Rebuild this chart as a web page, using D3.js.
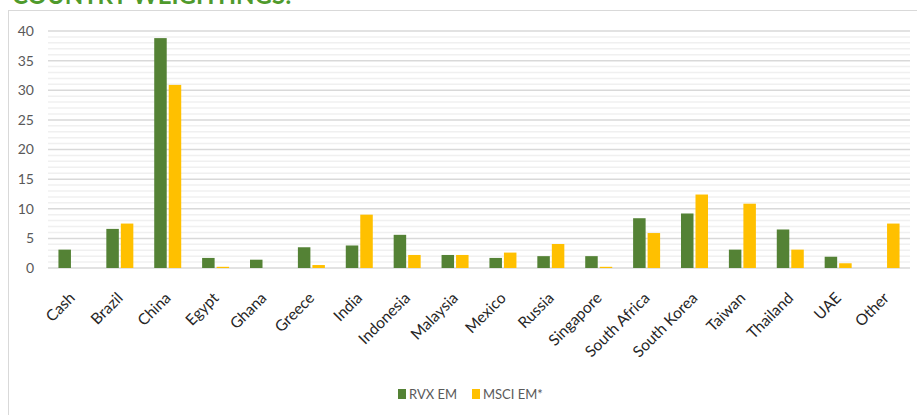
<!DOCTYPE html>
<html>
<head>
<meta charset="utf-8">
<script src="https://cdn.jsdelivr.net/npm/d3@7"></script>
<style>
  body { margin: 0; background: #fff; }
  svg { display: block; font-family: Lato, "Open Sans", sans-serif; }
</style>
</head>
<body>
<script>
const categories = ["Cash", "Brazil", "China", "Egypt", "Ghana", "Greece", "India", "Indonesia", "Malaysia",
  "Mexico", "Russia", "Singapore", "South Africa", "South Korea", "Taiwan", "Thailand", "UAE", "Other"];
const rvxEm = [3.1, 6.6, 38.8, 1.7, 1.4, 3.5, 3.8, 5.6, 2.2, 1.7, 2.0, 2.0, 8.4, 9.2, 3.1, 6.5, 1.9, 0];
const msciEm = [0, 7.5, 30.9, 0.2, 0, 0.5, 9.0, 2.2, 2.2, 2.6, 4.05, 0.2, 5.9, 12.4, 10.85, 3.1, 0.8, 7.5];
const seriesNames = ["RVX EM", "MSCI EM*"];
const yTicks = [0, 5, 10, 15, 20, 25, 30, 35, 40];

const w = 917, h = 415;
const colors = ["#548235", "#FFC000"];

const svg = d3.select("body").append("svg")
  .attr("width", w)
  .attr("height", h);

// title, mostly cut off at the top
svg.append("text")
  .attr("x", 12)
  .attr("y", 4)
  .attr("fill", "#4f9a2c")
  .attr("font-size", 24)
  .attr("font-weight", "bold")
  .text("COUNTRY WEIGHTINGS:");

// chart frame
svg.append("rect")
  .attr("x", 8.5).attr("y", 10.5)
  .attr("width", 930).attr("height", 420)
  .attr("fill", "none")
  .attr("stroke", "#d9d9d9");

const plotLeft = 48, plotRight = 910, plotTop = 31, plotBottom = 268;

const x = d3.scaleBand().domain(categories).range([plotLeft, plotRight]);
const y = d3.scaleLinear().domain([0, 40]).range([plotBottom, plotTop]);

// minor grid
svg.append("g").selectAll("line")
  .data(d3.range(0, 41).filter(v => v % 5 !== 0))
  .join("line")
  .attr("x1", plotLeft).attr("x2", plotRight)
  .attr("y1", d => y(d)).attr("y2", d => y(d))
  .attr("stroke", "#f0f0f0")
  .attr("stroke-width", 1.5);

// major grid
svg.append("g").selectAll("line")
  .data(yTicks)
  .join("line")
  .attr("x1", plotLeft).attr("x2", plotRight)
  .attr("y1", d => y(d)).attr("y2", d => y(d))
  .attr("stroke", "#d9d9d9")
  .attr("stroke-width", 1.5);

// y axis labels
const yAxis = d3.axisLeft(y).tickValues(yTicks).tickSize(0).tickPadding(12);
svg.append("g")
  .attr("transform", "translate(" + (plotLeft - 2) + ",0)")
  .call(yAxis)
  .call(g => g.select(".domain").remove())
  .call(g => g.selectAll("text")
    .attr("fill", "#595959")
    .attr("font-size", 14)
    .attr("font-family", "Lato, sans-serif"));

// bars
const barW = 12.5;
const bars = svg.append("g");
[rvxEm, msciEm].forEach((vals, s) => {
  bars.append("g").selectAll("rect")
    .data(categories)
    .join("rect")
    .attr("x", (d, i) => x(d) + x.bandwidth() / 2 + (s === 0 ? -1 - barW : 1))
    .attr("y", (d, i) => y(vals[i]))
    .attr("width", barW)
    .attr("height", (d, i) => plotBottom - y(vals[i]))
    .attr("fill", colors[s]);
});

// x labels, rotated 45 degrees
const xAxis = d3.axisBottom(x).tickSize(0).tickPadding(0);
svg.append("g")
  .attr("transform", "translate(0," + plotBottom + ")")
  .call(xAxis)
  .call(g => g.select(".domain").remove())
  .call(g => g.selectAll("text")
    .attr("fill", "#262626")
    .attr("font-size", 15.5)
    .attr("font-family", "Lato, sans-serif")
    .attr("text-anchor", "end")
    .attr("y", 0)
    .attr("dy", 0)
    .attr("transform", "translate(4,31) rotate(-45)"));

// legend
const legend = svg.append("g").attr("transform", "translate(398,389)");
const legX = [0, 74];
seriesNames.forEach((name, i) => {
  legend.append("rect")
    .attr("x", legX[i]).attr("y", 0)
    .attr("width", 8).attr("height", 10)
    .attr("fill", colors[i]);
  legend.append("text")
    .attr("x", legX[i] + 11).attr("y", 10)
    .attr("fill", "#595959")
    .attr("font-size", 13)
    .text(name);
});
</script>
</body>
</html>
